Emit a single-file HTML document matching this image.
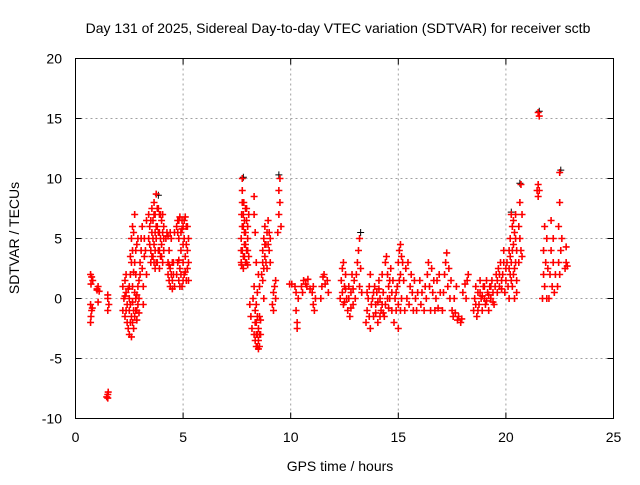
<!DOCTYPE html>
<html><head><meta charset="utf-8"><style>
body{margin:0;background:#fff;}
svg text{font-family:"Liberation Sans",sans-serif;font-size:14px;fill:#000;}
</style></head><body>
<svg id="chart" width="640" height="480" xmlns="http://www.w3.org/2000/svg">
<text x="338" y="33" text-anchor="middle">Day 131 of 2025, Sidereal Day-to-day VTEC variation (SDTVAR) for receiver sctb</text>
<text x="340" y="471" text-anchor="middle">GPS time / hours</text>
<text transform="translate(19,238) rotate(-90)" text-anchor="middle">SDTVAR / TECUs</text>
<g id="grid"></g>
<g id="ticks"></g>
<g id="marks"></g>
<rect x="75.5" y="58.5" width="538" height="360" fill="none" stroke="#000" stroke-width="1"/>
</svg>
<script>
const xTicks=[0,5,10,15,20,25];
const yTicks=[-10,-5,0,5,10,15,20];
const blackSamples=[[7.8,10.1],[9.45,10.3],[21.55,15.6],[22.55,10.7],[13.25,5.5],[20.65,9.6],[3.85,8.6],[20.25,7.2]];
const samples=[
[0.7,2],[0.75,1.8],[0.72,1.2],[0.7,-0.5],[0.75,-1],[0.72,-1.5],[0.7,-2],[0.78,-0.8],[0.8,1.5],
[1.0,0.8],[1.05,1],[1.1,0.6],[1.05,-0.3],[1.0,0.7],
[1.5,-8],[1.5,-8.3],[1.52,-7.8],[1.45,-8.2],[1.5,0],[1.55,-0.5],[1.5,-1],[1.5,0.3],
[2.2,-1],[2.25,0],[2.2,1],[2.3,-1.5],[2.3,1.5],[2.35,2],[2.35,0.5],[2.4,-0.5],[2.4,-2],[2.45,-2.5],[2.5,-3],[2.5,-1],[2.5,0],[2.5,1],[2.55,2],[2.55,-2],[2.6,-3.2],[2.6,-1.5],[2.6,3],[2.6,5],[2.65,4],[2.65,1],[2.7,-1],[2.7,-2.5],[2.7,5.5],[2.75,7],[2.75,3],[2.8,0],[2.8,2],[2.8,-1],[2.85,4.5],[2.85,-1.8],[2.9,-0.5],[2.9,1],[2.9,5],[2.95,0],
[2.3,0.2],[2.35,-1],[2.45,0.8],[2.55,-0.5],[2.65,-2],[2.65,-0.3],[2.75,-1.5],[2.75,0.5],[2.85,0.3],[2.85,-1],[2.95,-1.2],[2.95,1.5],[2.7,2.2],[2.8,4],[2.65,6],[2.55,3.5],
[3.0,2],[3.0,3],[3.05,4],[3.05,5],[3.1,6],[3.1,2.5],[3.15,-0.5],[3.15,1],[3.2,3.5],[3.2,5],[3.25,4],[3.3,2],[3.3,6.5],
[3.4,5],[3.4,7],[3.45,6],[3.5,4],[3.5,3],[3.55,7.5],[3.55,5.5],[3.6,3.5],[3.6,6.5],[3.65,8],[3.65,4.5],[3.7,2.5],[3.7,7],[3.75,8.7],[3.75,5],[3.8,3],[3.8,6],[3.85,7.5],[3.85,4],[3.9,2.5],[3.9,5.5],[3.95,7],[3.95,3.5],[4.0,4.5],[4.0,6.5],[4.05,3],[4.1,5],[4.1,6],
[3.45,4.5],[3.5,6.5],[3.55,3.5],[3.6,5],[3.65,7],[3.7,4],[3.75,6],[3.75,3],[3.8,7.5],[3.85,5.5],[3.9,4],[3.9,7],[3.95,5],[4.0,3.5],[4.05,5.5],[4.05,7],[4.1,4],[3.65,3],[3.7,5.5],
[4.2,5],[4.25,5.5],[4.3,3],[4.3,2],[4.35,1.5],[4.35,4],[4.4,1],[4.4,2.5],[4.45,5],[4.5,3],[4.5,1.5],[4.55,2],[4.6,5.5],[4.6,1],
[4.3,5.2],[4.4,5.5],[4.45,2],[4.55,3],[4.5,0.8],[4.35,2.8],
[4.7,6],[4.7,2],[4.75,6.5],[4.75,3],[4.8,5],[4.8,1.5],[4.85,6.8],[4.85,2.5],[4.9,5.5],[4.9,4],[4.95,6.5],[4.95,1],[5.0,6],[5.0,3],[5.05,5],[5.05,2],[5.1,6.8],[5.1,3.5],[5.15,4.5],[5.15,1.5],[5.2,6],[5.2,2.5],[5.25,3],[5.25,5],
[4.75,5.5],[4.8,6.5],[4.85,1],[4.9,2],[4.95,5.8],[5.0,1.5],[5.05,6.5],[5.1,2.2],[5.15,6],[5.2,4],[5.25,1.5],[4.8,3.2],[5.0,4.5],
[7.7,3],[7.7,5],[7.72,7],[7.75,10],[7.75,9],[7.75,4],[7.8,2.5],[7.8,6],[7.82,8],[7.85,3.5],[7.85,5.5],[7.9,7.5],[7.9,4.5],[7.95,3],[7.95,6.5],[8.0,4],[8.0,5],[8.0,2.8],[8.05,7],
[7.7,4],[7.75,6],[7.8,7],[7.8,3.5],[7.85,4.5],[7.85,6.5],[7.9,3],[7.9,5.5],[7.95,4],[7.95,7.5],[8.0,6],[8.05,3.5],[7.75,8],[7.72,2.8],
[8.1,-0.5],[8.15,-1.5],[8.2,-2.5],[8.25,0],[8.3,-3],[8.3,1],[8.35,-3.5],[8.35,-1],[8.4,-4],[8.4,-2],[8.45,0.5],[8.45,-3],[8.5,-4.2],[8.5,2],[8.55,-1.5],[8.55,1],[8.6,-3],[8.3,8.5],[8.3,7],[8.35,5.5],[8.4,3],
[8.35,-2],[8.4,-3],[8.45,-1.5],[8.5,-3.5],[8.5,-2.5],[8.55,-4],[8.45,-4],[8.4,-0.5],[8.55,-3],[8.6,-1.8],
[8.65,2],[8.7,4],[8.7,3],[8.75,5],[8.8,3.5],[8.8,6],[8.85,4.5],[8.9,2.5],[8.9,5.5],[8.95,6.5],[9.0,4],[9.05,5],[9.05,3],[8.7,1.5],[8.75,0],
[8.75,2.5],[8.85,3],[8.95,4.5],[9.0,5.5],[8.8,4.5],
[9.15,-0.5],[9.2,0.5],[9.25,1],[9.3,1.5],[9.2,-1],[9.3,0],
[9.4,5.5],[9.45,7],[9.45,9],[9.5,10],[9.5,8],[9.55,6],
[9.95,1.2],[10.05,1.2],
[10.2,1],[10.25,0.5],[10.25,-1],[10.3,-2],[10.3,-2.5],[10.35,0],
[10.5,1],[10.6,1.5],[10.7,1.2],[10.8,1.6],[10.9,0.8],[10.55,0.5],[10.75,1],
[11.0,0.5],[11.05,-0.5],[11.1,-1],[11.15,0],[11.05,1],
[11.4,0],[11.45,1],[11.5,1.8],[11.55,2],[11.6,1.2],[11.7,1.5],[11.75,0.5],
[12.3,0],[12.35,1.5],[12.4,2.5],[12.45,3],[12.45,-0.5],[12.5,1],[12.55,2],[12.6,0],
[12.65,-1],[12.7,1],[12.75,-1.5],[12.8,0.5],[12.85,2],[12.9,-0.5],[12.95,1.5],
[12.4,0.5],[12.5,-0.3],[12.55,0.8],[12.7,0],[12.8,-0.8],[12.9,0.8],
[13.0,0],[13.05,2],[13.1,3],[13.15,4],[13.2,5],[13.2,1],[13.25,2.5],[13.3,0.5],
[13.5,-2],[13.55,-1],[13.6,0],[13.65,1],[13.7,-2.5],[13.7,2],[13.75,-0.5],
[13.8,0],[13.85,-1.5],[13.9,1],[13.95,-0.5],[14.0,0.5],[14.05,-2],[14.1,1.5],[14.15,0],[14.2,-1],[14.25,2],[14.3,0.5],[14.35,-1.5],[14.4,-0.5],
[13.55,0.5],[13.65,-1.5],[13.85,0.5],[13.95,-1.2],[14.05,-0.3],[14.15,-1.5],[14.25,-0.5],[14.3,-1.2],[14.1,0.8],
[14.4,3],[14.45,3.5],[14.5,2],[14.55,1],[14.6,0],[14.65,2.5],[14.7,-1],[14.75,1.5],
[14.5,0],[14.6,1.5],[14.7,0.5],[14.55,-0.8],
[14.8,-2],[14.85,0],[14.9,-1],[14.95,1],[15.0,3],[15.0,-2.5],[15.05,4],[15.1,4.5],[15.1,2],[15.15,0],[15.2,3],
[14.9,0.5],[15.0,-0.5],[15.05,1.5],[15.15,3.5],[15.1,-1],
[15.25,1.5],[15.3,-1],[15.35,2.5],[15.4,0],[15.45,3],[15.5,-0.5],[15.55,1],[15.6,2],[15.65,0.5],[15.7,-1],[15.75,1.5],
[15.8,0],[15.85,-1],[15.9,0.5],[16.0,1.5],[16.05,-0.5],[16.1,0.5],[16.2,-1],[16.25,1],
[16.3,0],[16.35,2],[16.4,3],[16.45,1],[16.5,-1],[16.55,2.5],[16.6,0.5],[16.65,1.5],
[16.7,-1],[16.75,0],[16.8,1.5],[16.85,-0.8],[16.9,2],[16.95,0.5],[17.05,-1],
[17.1,0.5],[17.15,2],[17.2,3],[17.25,3.8],[17.3,1],[17.35,2.5],[17.4,0],[17.45,1.5],
[17.5,-1],[17.55,-1.5],[17.6,0],[17.65,-1.2],[17.7,1],[17.75,-1.8],[17.8,-1.5],[17.9,-2],[17.95,-1.7],
[18.0,0.5],[18.1,1.2],[18.2,1.5],[18.25,2],[18.15,0],
[18.5,-1],[18.55,0],[18.6,1],[18.65,-1.5],[18.7,0.5],[18.75,-0.5],[18.8,1.5],[18.85,0],[18.9,-1],[18.95,1],[19.0,0],[19.05,-0.5],[19.1,1.5],[19.15,0.5],[19.2,-1],[19.25,1],[19.3,0],[19.35,1.5],[19.4,0.5],[19.45,-0.5],
[18.6,-0.5],[18.7,-1],[18.8,0.5],[18.9,0.2],[19.0,1],[19.1,-0.2],[19.2,0.3],[19.3,1],[19.4,-0.3],
[19.5,1],[19.55,2],[19.6,0.5],[19.65,2.5],[19.7,1],[19.75,3],[19.8,1.5],[19.85,2],[19.9,4],[19.95,0.5],[20.0,2.5],[20.05,3],
[19.6,1.5],[19.7,2],[19.8,0.8],[19.9,3],[20.0,1.5],
[20.1,1],[20.15,4],[20.15,0],[20.2,5],[20.2,2],[20.25,7],[20.25,3],[20.3,1],[20.3,6],[20.35,4.5],[20.35,2],[20.4,0],[20.4,5.5],[20.45,3],[20.45,7],[20.5,1.5],[20.5,4],
[20.15,2.5],[20.2,3.5],[20.25,1.5],[20.3,4],[20.35,6.5],[20.4,2.5],[20.45,5],[20.5,0.5],
[20.6,3],[20.6,6],[20.65,8],[20.65,5],[20.7,9.5],[20.7,4],[20.75,7],[20.75,3.5],
[21.45,9],[21.5,8.5],[21.5,9.5],[21.55,15.2],[21.5,15.5],[21.55,9],
[21.7,0],[21.75,2],[21.75,4],[21.8,6],[21.8,1],[21.85,3],[21.9,5],[21.9,0],[21.95,2.5],
[22.0,0],[22.05,2],[22.1,6.5],[22.1,4],[22.15,1],[22.2,5],[22.2,3],[22.25,0.5],[22.3,2],
[22.4,1],[22.45,3],[22.45,6],[22.5,8],[22.5,10.5],[22.55,4],[22.5,2],[22.6,5],
[22.75,2.5],[22.8,3],[22.85,2.7],[22.8,4.3]
];
const NS='http://www.w3.org/2000/svg';
const X0=75.5,X1=613.5,Y0=418.5,Y1=58.5;
function xs(t){return X0+(t-0)/25*(X1-X0);}
function ys(v){return Y0-(v+10)/30*(Y0-Y1);}
const grid=document.getElementById('grid'),ticks=document.getElementById('ticks'),marks=document.getElementById('marks');
xTicks.forEach(t=>{
  const x=xs(t);
  if(t>0&&t<25){const g=document.createElementNS(NS,'line');
  
  
  g.setAttribute('x1',x);g.setAttribute('x2',x);g.setAttribute('y1',Y1);g.setAttribute('y2',Y0);
  g.setAttribute('stroke','#a0a0a0');g.setAttribute('stroke-dasharray','2,3');grid.appendChild(g);}
  const tk=document.createElementNS(NS,'path');
  
  
  tk.setAttribute('d',`M${x},${Y0}v-6M${x},${Y1}v6`);tk.setAttribute('stroke','#000');ticks.appendChild(tk);
  const l=document.createElementNS(NS,'text');
  
  
  l.setAttribute('x',x);l.setAttribute('y',442);l.setAttribute('text-anchor','middle');l.textContent=t;ticks.appendChild(l);
});
yTicks.forEach(v=>{
  const y=ys(v);
  if(v>-10&&v<20){const g=document.createElementNS(NS,'line');
  
  
  g.setAttribute('x1',X0);g.setAttribute('x2',X1);g.setAttribute('y1',y);g.setAttribute('y2',y);
  g.setAttribute('stroke','#a0a0a0');g.setAttribute('stroke-dasharray','2,3');grid.appendChild(g);}
  const tk=document.createElementNS(NS,'path');
  
  
  tk.setAttribute('d',`M${X0},${y}h6M${X1},${y}h-6`);tk.setAttribute('stroke','#000');ticks.appendChild(tk);
  const l=document.createElementNS(NS,'text');
  
  
  l.setAttribute('x',62);l.setAttribute('y',y+5);l.setAttribute('text-anchor','end');l.textContent=v;ticks.appendChild(l);
});
function plus(d){return d.map(([t,v])=>{const x=xs(t),y=ys(v);return `M${x-3.5},${y}h7M${x},${y-3.5}v7`;}).join('');}
const pb=document.createElementNS(NS,'path');


pb.setAttribute('d',plus(blackSamples));pb.setAttribute('stroke','#000');pb.setAttribute('stroke-width','1');marks.appendChild(pb);
const pr=document.createElementNS(NS,'path');


pr.setAttribute('d',plus(samples));pr.setAttribute('stroke','#ff0000');pr.setAttribute('stroke-width','1.6');marks.appendChild(pr);
</script>
</body></html>
